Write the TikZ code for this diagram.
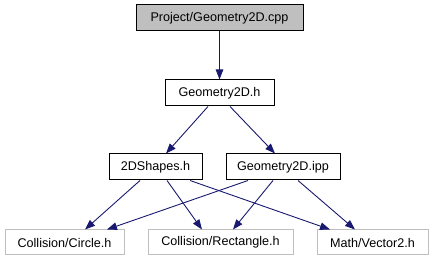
\documentclass[tikz,border=0pt]{standalone}
\usepackage{fontspec}
\setmainfont{Liberation Sans}
\usetikzlibrary{arrows.meta}
\definecolor{edgeblue}{HTML}{191970}
\definecolor{boxgray}{HTML}{BFBFBF}
\begin{document}
\begin{tikzpicture}[x=1pt,y=-1pt,
  file/.style={draw=black,line width=1pt,fill=white,inner sep=0pt,
    minimum height=26pt,font=\fontsize{12.6}{14}\selectfont},
  mainfile/.style={file,fill=boxgray},
  extfile/.style={file,draw=boxgray,minimum height=25pt},
  dep/.style={draw=edgeblue,line width=0.9pt,
    -{Triangle[length=10pt,width=7.5pt]},color=edgeblue}]
  \useasboundingbox (0,0) rectangle (433,261);
  % included files
  \node[mainfile,minimum width=167pt] (cpp) at (219.5,18) {Project/Geometry2D.cpp};
  \node[file,minimum width=109pt] (g2dh) at (219.5,93) {Geometry2D.h};
  \node[file,minimum width=93pt] (shapes) at (155.5,167) {2DShapes.h};
  \node[file,minimum width=114pt] (ipp) at (283,167) {Geometry2D.ipp};
  \node[extfile,minimum width=119pt] (circ) at (64.5,242.5) {Collision/Circle.h};
  \node[extfile,minimum width=145pt] (rect) at (220.5,242.5) {Collision/Rectangle.h};
  \node[extfile,minimum width=111pt] (vec) at (372.5,242.5) {Math/Vector2.h};
  % include dependencies
  \draw[dep] (cpp.south) -- (g2dh.north);
  \draw[dep] ([xshift=-11.5pt]g2dh.south) -- ([xshift=10.5pt]shapes.north);
  \draw[dep] ([xshift=10.5pt]g2dh.south) -- ([xshift=-8pt]ipp.north);
  \draw[dep] ([xshift=-15.5pt]shapes.south) -- ([xshift=20.5pt]circ.north);
  \draw[dep] ([xshift=11.5pt]shapes.south) -- ([xshift=-18.5pt]rect.north);
  \draw[dep] ([xshift=34.5pt]shapes.south) -- ([xshift=-42.5pt]vec.north);
  \draw[dep] ([xshift=-35pt]ipp.south) -- ([xshift=42.5pt]circ.north);
  \draw[dep] ([xshift=-10pt]ipp.south) -- ([xshift=12.5pt]rect.north);
  \draw[dep] ([xshift=15pt]ipp.south) -- ([xshift=-17.5pt]vec.north);
\end{tikzpicture}
\end{document}
